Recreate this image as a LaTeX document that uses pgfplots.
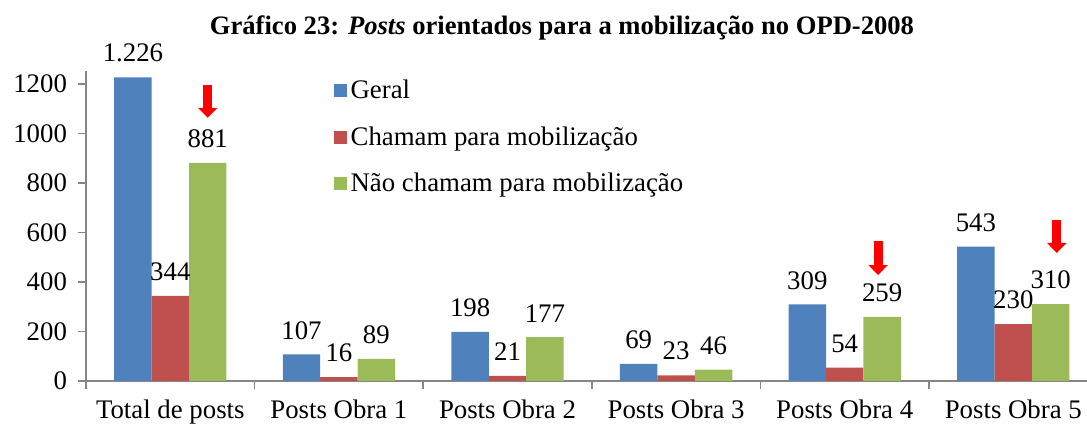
\documentclass[border=0pt]{standalone}
\usepackage{fontspec}
\setmainfont{Liberation Serif}
\usepackage{pgfplots}
\pgfplotsset{compat=1.18}
\usetikzlibrary{arrows.meta}
\definecolor{cblue}{HTML}{4F81BD}
\definecolor{cred}{HTML}{C0504D}
\definecolor{cgreen}{HTML}{9BBB59}
\definecolor{axgray}{HTML}{868686}
\begin{document}
\begin{tikzpicture}
\begin{axis}[
 name=ax,
 width=500.5pt, height=155pt, scale only axis,
 xmin=-0.5, xmax=5.437, ymin=0, ymax=1252,
 clip=false,
 axis lines*=left,
 axis line style={axgray, line width=0.8pt},
 tick style={axgray, line width=0.8pt},
 tick align=outside,
 major tick length=4pt,
 xtick={-0.5,0.5,1.5,2.5,3.5,4.5},
 xticklabels={},
 extra x ticks={0,1,2,3,4,5},
 extra x tick labels={Total de posts,Posts Obra 1,Posts Obra 2,Posts Obra 3,Posts Obra 4,Posts Obra 5},
 extra x tick style={major tick length=0pt, tick style={draw=none}},
 ytick={0,200,...,1200},
 /pgf/number format/assume math mode=true,
 /pgf/number format/1000 sep={},
 tick label style={font=\fontsize{13.4}{15}\selectfont, black},
 xticklabel style={yshift=-6pt},
 yticklabel style={xshift=-2pt},
 legend style={at={(rel axis cs:0.241,0.998)}, anchor=north west, draw=none, fill=none,
   font=\fontsize{13.4}{15}\selectfont, row sep=8.5pt},
 legend cell align=left,
 legend image code/.code={\fill[#1] (0pt,-3.25pt) rectangle (6.5pt,3.25pt);},
 every node near coord/.append style={font=\fontsize{13.4}{15}\selectfont, black, yshift=4pt},
]
\addplot[ybar, bar width=0.222, bar shift=-0.222, fill=cblue, draw=none,
  nodes near coords, point meta=explicit symbolic,
  every node near coord/.append style={xshift=-18.7pt}]
  coordinates {(0,1226) [1.226] (1,107) [107] (2,198) [198] (3,69) [69] (4,309) [309] (5,543) [543]};
\addlegendentry{Geral}
\addplot[ybar, bar width=0.222, bar shift=0, fill=cred, draw=none,
  nodes near coords, point meta=explicit symbolic]
  coordinates {(0,344) [344] (1,16) [16] (2,21) [21] (3,23) [23] (4,54) [54] (5,230) [230]};
\addlegendentry{Chamam para mobilização}
\addplot[ybar, bar width=0.222, bar shift=0.222, fill=cgreen, draw=none,
  nodes near coords, point meta=explicit symbolic,
  every node near coord/.append style={xshift=18.7pt}]
  coordinates {(0,881) [881] (1,89) [89] (2,177) [177] (3,46) [46] (4,259) [259] (5,310) [310]};
\addlegendentry{Não chamam para mobilização}
\addplot[red, line width=4.5pt, -{Triangle[width=9.5pt,length=5pt]}, forget plot]
  coordinates {(0.222,1196) (0.222,1063)};
\addplot[red, line width=4.5pt, -{Triangle[width=9.5pt,length=5pt]}, forget plot]
  coordinates {(4.198,566) (4.198,428)};
\addplot[red, line width=4.5pt, -{Triangle[width=9.5pt,length=5pt]}, forget plot]
  coordinates {(5.258,651) (5.258,517)};
\node[font=\fontsize{13.3}{15}\selectfont\bfseries, yshift=21.5pt] at (rel axis cs:0.4755,1)
  {Gráfico 23: \textit{Posts} orientados para a mobilização no OPD-2008};
\end{axis}
\pgfresetboundingbox
\path[use as bounding box] ([shift={(-43pt,-22pt)}]ax.south west) rectangle ([shift={(0pt,35.5pt)}]ax.north east);
\end{tikzpicture}
\end{document}
